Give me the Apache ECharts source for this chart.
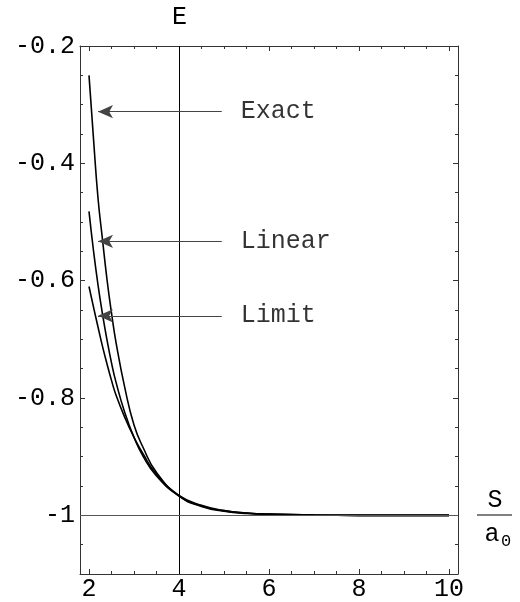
<!DOCTYPE html>
<html>
<head>
<meta charset="utf-8">
<script src="https://cdn.jsdelivr.net/npm/echarts@6/dist/echarts.min.js"></script>
<style>
  html, body { margin: 0; padding: 0; background: #fff; }
  #chart { width: 520px; height: 602px; }
</style>
</head>
<body>
<div id="chart"></div>
<script>
// values (E in Rydberg, S in a0)
const sValues = [2.0, 2.1, 2.2, 2.3, 2.4, 2.5, 2.6, 2.8, 3.0, 3.2, 3.5, 4.0, 4.5, 5.0, 5.5, 6.0, 7.0, 8.0, 9.0, 10.0];
const exactE  = [-0.25, -0.358, -0.459, -0.530, -0.598, -0.655, -0.705, -0.784, -0.846, -0.884, -0.927, -0.967, -0.985, -0.993, -0.997, -0.9985, -0.9997, -1.0, -1.0, -1.0];
const linearE = [-0.482, -0.549, -0.607, -0.657, -0.701, -0.740, -0.773, -0.826, -0.867, -0.899, -0.933, -0.967, -0.984, -0.992, -0.996, -0.998, -0.9996, -1.0, -1.0, -1.0];
const limitE  = [-0.61, -0.645, -0.679, -0.712, -0.742, -0.770, -0.795, -0.834, -0.867, -0.895, -0.930, -0.966, -0.983, -0.992, -0.996, -0.998, -0.9996, -1.0, -1.0, -1.0];

const curveNames = ['Exact', 'Linear', 'Limit'];
const arrowE = [-0.312, -0.533, -0.660];   // height of each pointer arrow
const arrowFromS = 4.95, arrowToS = 2.2, labelS = 5.37;

const xMajor = [2, 4, 6, 8, 10];
const xMinor = [2.5, 3, 3.5, 4.5, 5, 5.5, 6.5, 7, 7.5, 8.5, 9, 9.5];
const yMajor = [-1, -0.8, -0.6, -0.4, -0.2];
const yMinor = [-1.05, -0.95, -0.9, -0.85, -0.75, -0.7, -0.65, -0.55, -0.5, -0.45, -0.35, -0.3, -0.25];

const FONT = "'Liberation Mono', 'Courier New', monospace";
const frameColor = '#333';

function pairs(ys) { return sValues.map((s, i) => [s, ys[i]]); }

// one axis per (side, tick set) so major and minor ticks can differ in length
function frameAxis(base, position, ticks, len, withLine, withLabels) {
  return Object.assign({}, base, {
    type: 'value',
    position: position,
    axisLine: { show: withLine, onZero: false, lineStyle: { color: frameColor, width: 1 } },
    axisTick: { show: true, inside: true, length: len, customValues: ticks,
                lineStyle: { color: frameColor, width: 1 } },
    axisLabel: withLabels ? {
      show: true, customValues: ticks, fontFamily: FONT, fontSize: 25, color: '#000',
      margin: position === 'bottom' ? 3 : 5
    } : { show: false },
    splitLine: { show: false }
  });
}

const xBase = { min: 1.8, max: 10.2 };
const yBase = { min: -1.1, max: -0.2 };

const chart = echarts.init(document.getElementById('chart'));
chart.setOption({
  animation: false,
  backgroundColor: '#fff',
  grid: { left: 80, right: 62, top: 46, bottom: 26 },
  xAxis: [
    frameAxis(xBase, 'bottom', xMajor, 5, true, true),
    frameAxis(xBase, 'bottom', xMinor, 3, false, false),
    frameAxis(xBase, 'top', xMajor, 5, true, false),
    frameAxis(xBase, 'top', xMinor, 3, false, false)
  ],
  yAxis: [
    frameAxis(yBase, 'left', yMajor, 5, true, true),
    frameAxis(yBase, 'left', yMinor, 3, false, false),
    frameAxis(yBase, 'right', yMajor, 5, true, false),
    frameAxis(yBase, 'right', yMinor, 3, false, false)
  ],
  series: [
    {
      type: 'line', name: 'Exact', data: pairs(exactE), smooth: true,
      showSymbol: false, lineStyle: { color: '#000', width: 1.6 },
      markLine: {
        silent: true, symbol: 'none', label: { show: false },
        data: [
          { xAxis: 4, lineStyle: { color: '#000', width: 1, type: 'solid' } },
          { yAxis: -1, lineStyle: { color: '#555', width: 1, type: 'solid' } }
        ]
      }
    },
    {
      type: 'line', name: 'Linear', data: pairs(linearE), smooth: true,
      showSymbol: false, lineStyle: { color: '#000', width: 1.6 }
    },
    {
      type: 'line', name: 'Limit', data: pairs(limitE), smooth: true,
      showSymbol: false, lineStyle: { color: '#000', width: 1.6 }
    },
    {
      type: 'scatter', name: 'labels', symbolSize: 0,
      data: curveNames.map((n, i) => ({ value: [labelS, arrowE[i]], name: n })),
      label: {
        show: true, position: 'right', distance: 0, formatter: '{b}',
        fontFamily: FONT, fontSize: 25, color: '#000'
      },
      markLine: {
        silent: true, symbol: ['none', 'arrow'], symbolSize: [10, 15],
        label: { show: false },
        lineStyle: { color: '#444', width: 1.2, type: 'solid' },
        data: arrowE.map(e => [{ coord: [arrowFromS, e] }, { coord: [arrowToS, e] }])
      }
    }
  ],
  graphic: [
    { type: 'text', style: { text: 'E', x: 179.5, y: 17, font: '25px ' + FONT,
      textAlign: 'center', textVerticalAlign: 'middle', fill: '#000' } },
    { type: 'text', style: { text: 'S', x: 495, y: 500, font: '25px ' + FONT,
      textAlign: 'center', textVerticalAlign: 'middle', fill: '#000' } },
    { type: 'line', shape: { x1: 477, y1: 515, x2: 512, y2: 515 },
      style: { stroke: '#000', lineWidth: 1 } },
    { type: 'text', style: { text: 'a', x: 492, y: 534, font: '25px ' + FONT,
      textAlign: 'center', textVerticalAlign: 'middle', fill: '#000' } },
    { type: 'text', style: { text: '0', x: 506, y: 541, font: '17px ' + FONT,
      textAlign: 'center', textVerticalAlign: 'middle', fill: '#000' } }
  ]
});
</script>
</body>
</html>
